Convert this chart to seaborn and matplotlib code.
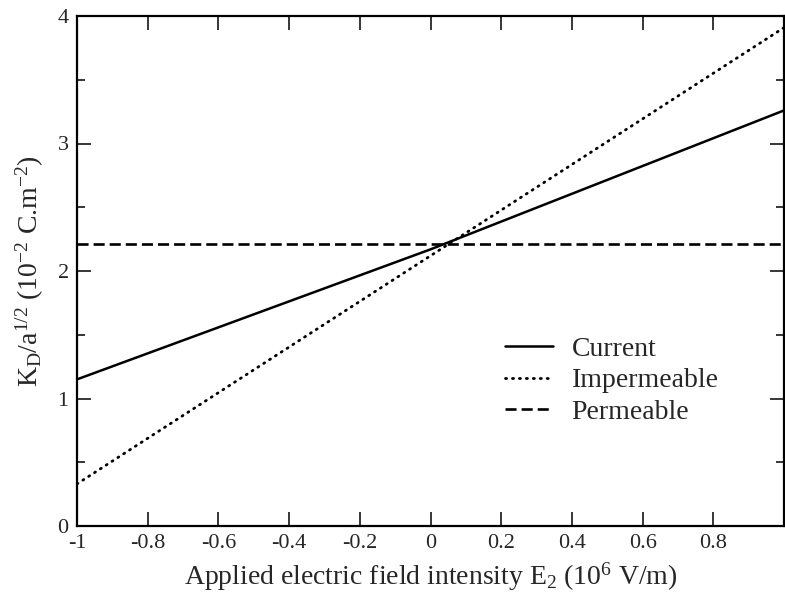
import numpy as np
import pandas as pd
import matplotlib
matplotlib.use("Agg")
import matplotlib.pyplot as plt
import seaborn as sns
from matplotlib.ticker import MultipleLocator, FixedLocator

# ---- data ----
field = [-1.0, 0.0, 1.0]
current = [1.15, 2.17, 3.26]
impermeable = [0.33, 2.12, 3.91]
permeable = [2.21, 2.21, 2.21]
series_names = ["Current", "Impermeable", "Permeable"]
xtick_values = [-1, -0.8, -0.6, -0.4, -0.2, 0, 0.2, 0.4, 0.6, 0.8, 1.0]
xtick_labels = ["-1", "-0.8", "-0.6", "-0.4", "-0.2", "0", "0.2", "0.4", "0.6", "0.8", ""]
ytick_values = [0, 1, 2, 3, 4]
ytick_labels = ["0", "1", "2", "3", "4"]

sns.set_style("ticks")
plt.rcParams["font.family"] = ["Liberation Serif", "DejaVu Serif"]
plt.rcParams["mathtext.fontset"] = "custom"
plt.rcParams["mathtext.rm"] = "Liberation Serif"
plt.rcParams["mathtext.it"] = "Liberation Serif:italic"

df = pd.DataFrame({
    "E": field * 3,
    "K": current + impermeable + permeable,
    "series": [series_names[0]] * 3 + [series_names[1]] * 3 + [series_names[2]] * 3,
})

fig = plt.figure(figsize=(7.85, 5.99), dpi=100)
ax = fig.add_axes([77 / 785, 1 - 526 / 599, (785 - 77) / 785 - 0.001, (526 - 16) / 599])

styles = {
    "Current": dict(linestyle="-", linewidth=1.8),
    "Impermeable": dict(linestyle=(0, (0.4, 2.1)), linewidth=2.0, dash_capstyle="round"),
    "Permeable": dict(linestyle=(0, (4.2, 1.9)), linewidth=1.9, dash_capstyle="butt"),
}
for name in series_names:
    sub = df[df["series"] == name]
    sns.lineplot(data=sub, x="E", y="K", ax=ax, color="black", label=name, **styles[name])

ax.set_xlim(-1, 1)
ax.set_ylim(0, 4)
ax.xaxis.set_major_locator(FixedLocator(xtick_values))
ax.set_xticklabels(xtick_labels)
ax.yaxis.set_major_locator(FixedLocator(ytick_values))
ax.set_yticklabels(ytick_labels)
ax.yaxis.set_minor_locator(MultipleLocator(0.5))

ax.tick_params(axis="both", which="major", direction="in", length=10, width=1.3,
               labelsize=16, top=True, right=True, pad=6)
ax.tick_params(axis="y", which="minor", direction="in", length=6, width=1.3,
               left=True, right=True)
ax.tick_params(axis="x", which="minor", bottom=False, top=False)
for s in ax.spines.values():
    s.set_linewidth(1.6)
    s.set_color("black")

ax.set_xlabel(r"Applied electric field intensity E$\mathregular{_2}$ (10$\mathregular{^6}$ V/m)",
              fontsize=20, labelpad=5)
ax.set_ylabel(r"K$\mathregular{_D}$/a$\mathregular{^{1/2}}$ (10$\mathregular{^{-2}}$ C.m$\mathregular{^{-2}}$)",
              fontsize=20, labelpad=8)

leg = ax.legend(loc="upper left", bbox_to_anchor=(0.605, 0.372), frameon=False,
                fontsize=20, handlelength=1.75, handletextpad=0.65, labelspacing=0.22,
                borderpad=0, borderaxespad=0)

fig.savefig("out.png", dpi=100)
